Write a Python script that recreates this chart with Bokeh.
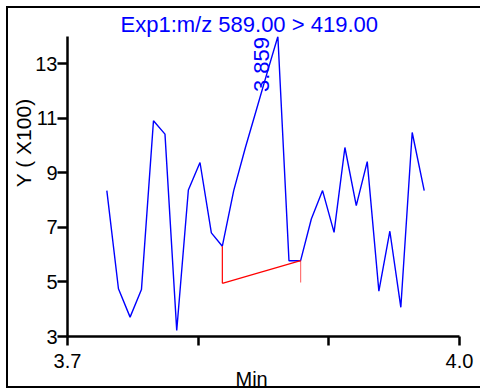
import math
from bokeh.plotting import figure
from bokeh.models import FixedTicker, Label, Title
from bokeh.embed import file_html
from bokeh.resources import INLINE

# ---- data ----
times = [3.7301, 3.7390, 3.7479, 3.7566, 3.7658, 3.7746, 3.7836, 3.7925, 3.8014, 3.8101,
         3.8185, 3.8272, 3.8361, 3.8448, 3.8532, 3.8610, 3.8695, 3.8784, 3.8866, 3.8952,
         3.9040, 3.9123, 3.9210, 3.9294, 3.9383, 3.9467, 3.9551, 3.9638, 3.9730]
intensity = [8.35, 4.75, 3.71, 4.72, 10.91, 10.42, 3.22, 8.37, 9.38, 6.80,
             6.31, 8.35, 9.92, 11.35, 12.74, 14.0, 5.78, 5.78, 7.31, 8.35,
             6.82, 9.93, 7.80, 9.41, 4.66, 6.86, 4.07, 10.48, 8.35]
base_t = [3.8185, 3.8784]
base_y = [4.95, 5.78]
right_marker_bottom = 4.98
x_ticks = [3.7, 3.8, 3.9, 4.0]
x_tick_labels = {3.7: "3.7", 3.8: "", 3.9: "", 4.0: "4.0"}
y_ticks = [3, 5, 7, 9, 11, 13]
title_text = "Exp1:m/z 589.00 > 419.00"
peak_label = "3.859"
x_label = "Min"
y_label = "Y ( X100)"

FONT = "Liberation Sans"

p = figure(width=474, height=382, x_range=(3.7, 4.0), y_range=(3, 14),
           output_backend="svg", toolbar_location=None,
           min_border_left=59, min_border_right=23, min_border_top=28, min_border_bottom=54)
p.styles = {"margin-left": "6px", "margin-top": "6px",
            "border-top": "2px solid black", "border-left": "2px solid black",
            "border-bottom": "2px solid black"}

p.title = Title(text=title_text, align="left", offset=53, standoff=0,
                text_font=FONT, text_font_size="22px", text_font_style="normal",
                text_color="#0000ff")

p.xgrid.visible = False
p.ygrid.visible = False
p.outline_line_color = None
p.background_fill_color = "white"

for ax in (p.xaxis[0], p.yaxis[0]):
    ax.axis_line_width = 2.5
    ax.axis_line_color = "black"
    ax.major_tick_line_width = 2.5
    ax.major_tick_line_color = "black"
    ax.major_tick_in = 0
    ax.minor_tick_line_color = None
    ax.major_label_text_font = FONT
    ax.major_label_text_font_size = "20px"
    ax.major_label_text_color = "black"

p.xaxis.ticker = FixedTicker(ticks=x_ticks)
p.xaxis.major_label_overrides = x_tick_labels
p.xaxis.major_tick_out = 9
p.xaxis.major_label_standoff = 8

p.yaxis.ticker = FixedTicker(ticks=y_ticks)
p.yaxis.major_tick_out = 10
p.yaxis.major_label_standoff = 0

# axis titles as side panels
p.add_layout(Title(text=y_label, align="right", offset=62, standoff=-4,
                   text_font=FONT, text_font_size="21px", text_font_style="normal",
                   text_color="black"), "left")
p.add_layout(Title(text=x_label, align="left", offset=168, standoff=-9,
                   text_font=FONT, text_font_size="20px", text_font_style="normal",
                   text_color="black"), "below")

# chromatogram trace
p.line(times, intensity, line_color="#0000ff", line_width=1.4)

# integration baseline
i0 = times.index(base_t[0])
p.line([base_t[0], base_t[0]], [intensity[i0], base_y[0]], line_color="#ff0000", line_width=1.2)
p.line(base_t, base_y, line_color="#ff0000", line_width=1.2)
p.line([base_t[1], base_t[1]], [base_y[1], right_marker_bottom], line_color="#ff0000",
       line_alpha=0.55, line_width=1.2)

# peak label
ipk = intensity.index(max(intensity))
p.add_layout(Label(x=times[ipk], y=intensity[ipk], x_offset=-16, y_offset=-28,
                   text=peak_label, angle=math.pi / 2, text_align="center",
                   text_baseline="middle", text_font=FONT, text_font_size="22px",
                   text_color="#0000ff"))

open("out.html", "w").write(file_html(p, INLINE))
